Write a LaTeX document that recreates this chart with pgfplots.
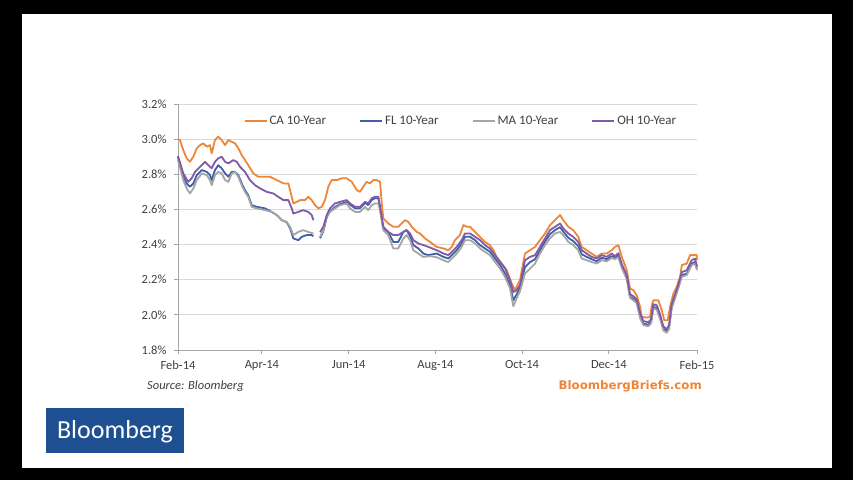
\documentclass[border=0pt]{standalone}
\usepackage{fontspec}
\setmainfont{Carlito}
\newfontfamily\briefsfont{DejaVu Sans}
\usepackage{pgfplots}
\pgfplotsset{compat=1.18}

\definecolor{caorange}{HTML}{EE8638}
\definecolor{flblue}{HTML}{3F5FA8}
\definecolor{magray}{HTML}{A5A5A5}
\definecolor{ohpurple}{HTML}{7E5AA8}
\definecolor{gridgray}{HTML}{D9D9D9}
\definecolor{axisgray}{HTML}{A6A6A6}
\definecolor{labelgray}{HTML}{404040}
\definecolor{bbgblue}{HTML}{1D4F91}

\begin{document}
\begin{tikzpicture}[x=1pt,y=1pt]
% frame
\fill[black] (0,0) rectangle (853,480);
\fill[white] (22,12) rectangle (832,466);

\begin{axis}[
    at={(178pt,130pt)}, anchor=south west,
    scale only axis,
    width=519pt, height=246pt,
    xmin=0, xmax=365,
    ymin=1.8, ymax=3.2,
    axis x line*=bottom,
    axis y line*=left,
    axis line style={axisgray, line width=0.8pt},
    xtick={0,59,120,181,242,303,365},
    xticklabels={Feb-14,Apr-14,Jun-14,Aug-14,Oct-14,Dec-14,Feb-15},
    ytick={1.8,2.0,2.2,2.4,2.6,2.8,3.0,3.2},
    yticklabel={\pgfmathprintnumber[fixed,fixed zerofill,precision=1]{\tick}\%},
    /pgf/number format/assume math mode=true,
    tick align=outside,
    major tick length=4pt,
    tick style={axisgray, line width=0.8pt},
    ymajorgrids,
    grid style={gridgray, line width=0.9pt},
    tick label style={font=\fontsize{12.5}{14}\selectfont, text=labelgray},
    xticklabel style={yshift=-3pt},
    yticklabel style={xshift=-4pt},
    unbounded coords=jump,
    clip=false,
    legend columns=4,
    legend style={at={(0.545,0.931)}, anchor=center, draw=none, fill=none,
        font=\fontsize{13}{15}\selectfont, text=labelgray,
        /tikz/every even column/.append style={column sep=31pt}},
    legend image code/.code={\draw[#1, line width=2pt] (0pt,0pt) -- (22pt,0pt);},
    every axis plot/.append style={line width=1.8pt, line join=round},
]
\addplot[caorange] coordinates {
(0,3.00) (1.4,2.995) (3.7,2.938) (6.1,2.891) (8.4,2.871) (10.8,2.900) (13.2,2.948) (15.5,2.966) (17.8,2.976) (20.2,2.957) (22.5,2.966) (23.7,2.919) (26.0,2.995) (28.3,3.014) (30.7,2.995) (33.1,2.966) (35.4,2.995) (37.8,2.985) (40.1,2.976) (42.4,2.948) (44.8,2.909) (47.1,2.881) (49.4,2.852) (53.0,2.805) (56.5,2.786) (61.2,2.786) (64.7,2.786) (69.4,2.767) (74.1,2.748) (77.6,2.748) (80.0,2.672) (81.1,2.634) (83.5,2.643) (85.8,2.653) (89.3,2.653) (91.6,2.672) (94.0,2.653) (96.4,2.624) (98.7,2.606) (101.1,2.615) (103.4,2.653) (105.7,2.729) (108.1,2.767) (111.6,2.767) (115.1,2.777) (118.6,2.777) (122.2,2.757) (125.7,2.710) (128.0,2.700) (130.3,2.729) (132.7,2.757) (135.0,2.748) (137.4,2.767) (139.7,2.767) (142.1,2.757) (143.3,2.634) (144.4,2.549) (147.9,2.520) (151.4,2.501) (154.9,2.501) (157.3,2.520) (159.6,2.539) (162.0,2.529) (164.4,2.501) (167.9,2.472) (170.2,2.463) (173.7,2.435) (177.2,2.415) (181.9,2.387) (186.6,2.378) (190.1,2.368) (192.5,2.387) (194.8,2.425) (198.3,2.454) (200.7,2.511) (203.0,2.501) (205.4,2.501) (208.9,2.472) (212.4,2.444) (215.9,2.415) (219.4,2.397) (221.8,2.368) (224.1,2.330) (227.7,2.292) (231.2,2.254) (234.7,2.178) (237.0,2.140) (240.5,2.197) (244.0,2.349) (247.6,2.368) (251.1,2.387) (254.6,2.425) (258.1,2.463) (261.6,2.511) (265.1,2.539) (268.7,2.568) (271.0,2.539) (274.5,2.501) (278.0,2.482) (281.5,2.444) (283.9,2.387) (287.4,2.368) (290.9,2.349) (294.5,2.330) (298.0,2.349) (301.5,2.349) (305.0,2.368) (307.3,2.387) (309.7,2.397) (312.1,2.330) (315.6,2.254) (317.9,2.150) (320.3,2.140) (322.6,2.111) (325.0,2.045) (326.1,1.988) (329.6,1.985) (332.0,1.988) (333.2,2.055) (334.3,2.083) (337.8,2.083) (340.2,2.026) (342.0,1.969) (344.4,1.969) (346.0,2.045) (348.4,2.121) (350.7,2.159) (353.1,2.216) (354.3,2.283) (357.8,2.292) (360.1,2.340) (364.8,2.340) (365,2.311)
};
\addlegendentry{CA 10-Year}
\addplot[flblue] coordinates {
(0,2.898) (3.7,2.786) (6.1,2.748) (8.4,2.729) (10.8,2.748) (13.2,2.795) (16.7,2.824) (20.2,2.814) (22.5,2.795) (23.7,2.767) (26.0,2.824) (28.3,2.852) (30.7,2.834) (33.1,2.805) (35.4,2.786) (37.8,2.814) (40.1,2.814) (42.4,2.795) (44.8,2.748) (47.1,2.710) (49.4,2.681) (51.8,2.624) (55.4,2.615) (61.2,2.606) (65.9,2.586) (69.4,2.568) (72.9,2.539) (76.4,2.528) (78.8,2.493) (81.1,2.435) (84.6,2.425) (87.0,2.444) (90.5,2.454) (94.0,2.454) (95.2,2.448) (97,nan)
(99.9,2.436) (102.2,2.476) (104.6,2.556) (106.9,2.590) (110.4,2.613) (113.9,2.630) (118.6,2.642) (121.0,2.627) (124.5,2.607) (128.0,2.607) (131.5,2.636) (133.8,2.625) (136.2,2.653) (138.5,2.664) (140.9,2.664) (142.1,2.607) (144.4,2.492) (147.9,2.472) (151.4,2.415) (154.9,2.415) (158.5,2.472) (160.8,2.482) (163.2,2.448) (165.5,2.397) (169.0,2.378) (172.5,2.349) (176.0,2.340) (181.9,2.349) (186.6,2.330) (190.1,2.321) (192.5,2.340) (196.0,2.368) (199.5,2.406) (201.8,2.444) (205.4,2.444) (208.9,2.425) (212.4,2.397) (215.9,2.378) (219.4,2.359) (222.9,2.321) (226.5,2.283) (230.0,2.235) (233.5,2.169) (235.8,2.083) (238.2,2.117) (240.5,2.157) (244.0,2.271) (247.6,2.300) (251.1,2.317) (254.6,2.368) (258.1,2.417) (261.6,2.459) (265.1,2.482) (268.7,2.499) (271.0,2.474) (274.5,2.439) (278.0,2.419) (281.5,2.391) (283.9,2.345) (287.4,2.330) (290.9,2.317) (294.5,2.305) (298.0,2.325) (301.5,2.317) (305.0,2.334) (307.3,2.325) (309.7,2.340) (312.1,2.277) (315.6,2.214) (317.9,2.103) (320.3,2.092) (322.6,2.075) (325.0,1.992) (327.3,1.949) (330.8,1.944) (332.7,1.961) (334.3,2.046) (336.7,2.038) (339.0,1.986) (341.3,1.921) (343.7,1.907) (345.3,1.927) (347.2,2.046) (349.6,2.103) (351.9,2.160) (354.3,2.226) (357.8,2.235) (361.3,2.292) (363.6,2.301) (365,2.264)
};
\addlegendentry{FL 10-Year}
\addplot[magray] coordinates {
(0,2.881) (3.7,2.767) (6.1,2.720) (8.4,2.691) (10.8,2.720) (13.2,2.767) (16.7,2.805) (20.2,2.795) (22.5,2.767) (23.7,2.738) (26.0,2.795) (28.3,2.814) (30.7,2.805) (33.1,2.767) (35.4,2.757) (37.8,2.805) (40.1,2.814) (42.4,2.786) (44.8,2.738) (47.1,2.700) (49.4,2.672) (51.8,2.615) (55.4,2.606) (61.2,2.596) (65.9,2.586) (69.4,2.568) (72.9,2.539) (76.4,2.529) (78.8,2.501) (81.1,2.454) (84.6,2.472) (88.1,2.482) (91.6,2.472) (95.2,2.463) (97,nan)
(99.9,2.444) (102.2,2.482) (104.6,2.558) (106.9,2.586) (110.4,2.606) (113.9,2.624) (118.6,2.634) (121.0,2.606) (124.5,2.586) (128.0,2.586) (131.5,2.615) (133.8,2.596) (136.2,2.624) (138.5,2.634) (140.9,2.634) (142.1,2.596) (144.4,2.482) (147.9,2.454) (151.4,2.378) (154.9,2.378) (158.5,2.435) (160.8,2.454) (163.2,2.425) (165.5,2.368) (169.0,2.349) (172.5,2.330) (177.2,2.334) (181.9,2.328) (186.6,2.311) (190.1,2.300) (192.5,2.320) (196.0,2.349) (199.5,2.387) (201.8,2.425) (205.4,2.425) (208.9,2.406) (212.4,2.378) (215.9,2.358) (219.4,2.340) (222.9,2.301) (226.5,2.264) (230.0,2.216) (233.5,2.150) (235.8,2.049) (238.2,2.095) (240.5,2.134) (244.0,2.235) (247.6,2.264) (251.1,2.292) (254.6,2.349) (258.1,2.397) (261.6,2.435) (265.1,2.463) (268.7,2.472) (271.0,2.454) (274.5,2.415) (278.0,2.397) (281.5,2.368) (283.9,2.321) (287.4,2.311) (290.9,2.301) (294.5,2.292) (298.0,2.311) (301.5,2.305) (305.0,2.323) (307.3,2.317) (309.7,2.328) (312.1,2.266) (315.6,2.203) (317.9,2.095) (320.3,2.083) (322.6,2.066) (325.0,1.981) (327.3,1.941) (330.8,1.935) (332.7,1.952) (334.3,2.038) (336.7,2.029) (339.0,1.978) (341.3,1.912) (343.7,1.898) (345.3,1.918) (347.2,2.038) (349.6,2.095) (351.9,2.152) (354.3,2.217) (357.8,2.226) (361.3,2.283) (363.6,2.291) (365,2.254)
};
\addlegendentry{MA 10-Year}
\addplot[ohpurple] coordinates {
(0,2.904) (3.7,2.805) (7.2,2.757) (9.6,2.777) (12.0,2.814) (15.5,2.843) (19.0,2.871) (21.3,2.852) (23.7,2.834) (26.0,2.871) (28.3,2.891) (30.7,2.900) (33.1,2.871) (35.4,2.862) (38.9,2.881) (41.3,2.871) (43.6,2.843) (47.1,2.814) (50.6,2.767) (54.2,2.738) (57.7,2.720) (62.4,2.700) (67.0,2.691) (70.5,2.672) (74.1,2.653) (77.6,2.653) (80.0,2.606) (81.1,2.577) (84.6,2.586) (88.1,2.596) (91.6,2.586) (94.0,2.568) (95.2,2.539) (97,nan)
(99.9,2.471) (102.2,2.501) (104.6,2.568) (106.9,2.606) (110.4,2.634) (113.9,2.643) (118.6,2.653) (121.0,2.634) (124.5,2.615) (128.0,2.615) (131.5,2.643) (133.8,2.634) (136.2,2.663) (138.5,2.672) (140.9,2.672) (142.1,2.615) (144.4,2.501) (147.9,2.472) (151.4,2.454) (154.9,2.454) (158.5,2.472) (160.8,2.482) (163.2,2.463) (165.5,2.425) (169.0,2.406) (172.5,2.397) (176.0,2.387) (181.9,2.368) (186.6,2.349) (190.1,2.340) (192.5,2.358) (196.0,2.387) (199.5,2.425) (201.8,2.463) (205.4,2.463) (208.9,2.444) (212.4,2.425) (215.9,2.397) (219.4,2.378) (222.9,2.340) (226.5,2.301) (230.0,2.264) (233.5,2.197) (235.8,2.130) (238.2,2.140) (240.5,2.169) (244.0,2.311) (247.6,2.330) (251.1,2.340) (254.6,2.387) (258.1,2.435) (261.6,2.482) (265.1,2.501) (268.7,2.520) (271.0,2.492) (274.5,2.463) (278.0,2.444) (281.5,2.415) (283.9,2.368) (287.4,2.349) (290.9,2.330) (294.5,2.321) (298.0,2.340) (301.5,2.330) (305.0,2.349) (307.3,2.334) (309.7,2.351) (312.1,2.288) (315.6,2.226) (317.9,2.117) (320.3,2.106) (322.6,2.089) (325.0,2.009) (327.3,1.964) (330.8,1.958) (332.7,1.975) (334.3,2.060) (336.7,2.055) (339.0,2.003) (341.3,1.935) (343.7,1.918) (345.3,1.941) (347.2,2.060) (349.6,2.117) (351.9,2.174) (354.3,2.243) (357.8,2.254) (361.3,2.311) (363.6,2.320) (365,2.277)
};
\addlegendentry{OH 10-Year}
\end{axis}

% source and footer
\node[anchor=west, inner sep=0pt, text=labelgray] at (147,93.3)
    {\fontsize{12.5}{14}\selectfont\itshape Source: Bloomberg};
\node[anchor=east, inner sep=0pt, text=caorange] at (702,93.3)
    {\briefsfont\bfseries\fontsize{11.8}{14}\selectfont BloombergBriefs.com};

% logo
\fill[bbgblue] (46,27) rectangle (184,72);
\node[text=white, inner sep=0pt] at (115,48.5)
    {\fontsize{26}{30}\selectfont Bloomberg};
\end{tikzpicture}
\end{document}
